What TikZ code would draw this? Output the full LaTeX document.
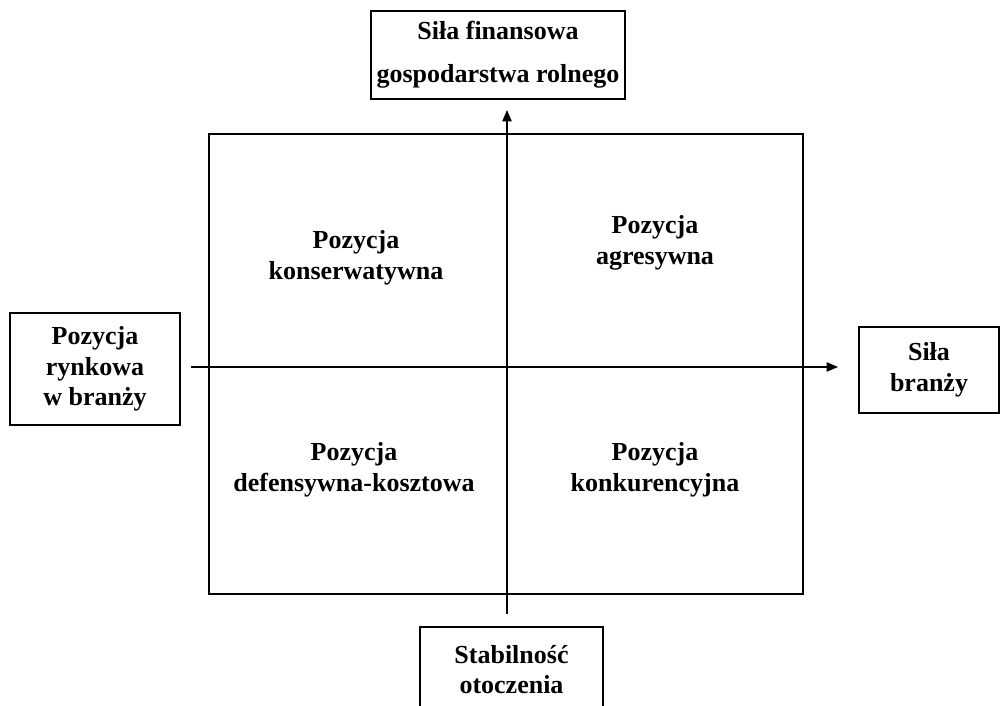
\documentclass[tikz,border=0pt]{standalone}
\usepackage{fontspec}
\setmainfont{Liberation Serif}
\usetikzlibrary{arrows.meta}
\tikzset{
    etykieta/.style={draw, black, line width=1.1pt, align=center, font=\bfseries\fontsize{19.5}{23}\selectfont, inner sep=0pt},
    pole/.style={align=center, font=\bfseries\fontsize{19.5}{23}\selectfont},
    os/.style={line width=1pt, -{Triangle[length=8.5pt, width=7pt]}}
}
\begin{document}
\begin{tikzpicture}[x=0.75pt, y=-0.75pt]
    \useasboundingbox (0,0) rectangle (1004,706);
    % macierz
    \draw[line width=1.2pt] (209,134) rectangle (803,594);
    % osie
    \coordinate (dol) at (507,614);
    \coordinate (gora) at (507,110);
    \coordinate (lewo) at (191,367);
    \coordinate (prawo) at (838,367);
    \draw[os] (dol) -- (gora);
    \draw[os] (lewo) -- (prawo);
    % opisy osi
    \node[etykieta, minimum width=190.5pt, minimum height=66pt, font=\bfseries\fontsize{19.5}{32}\selectfont] (finanse) at (498,55) {Siła finansowa\\gospodarstwa rolnego};
    \node[etykieta, minimum width=127.5pt, minimum height=84pt] (rynek) at (95,369) {Pozycja\\rynkowa\\w branży};
    \node[etykieta, minimum width=105pt, minimum height=64.5pt] (branza) at (929,370) {Siła\\branży};
    \node[etykieta, minimum width=137.25pt, minimum height=63.75pt] (otoczenie) at (511.5,669.5) {Stabilność\\otoczenia};
    % pola macierzy
    \node[pole] (konserw) at (356,258) {Pozycja\\konserwatywna};
    \node[pole] (agres) at (655,243) {Pozycja\\agresywna};
    \node[pole] (defens) at (354,470) {Pozycja\\defensywna-kosztowa};
    \node[pole] (konkur) at (655,470) {Pozycja\\konkurencyjna};
\end{tikzpicture}
\end{document}
